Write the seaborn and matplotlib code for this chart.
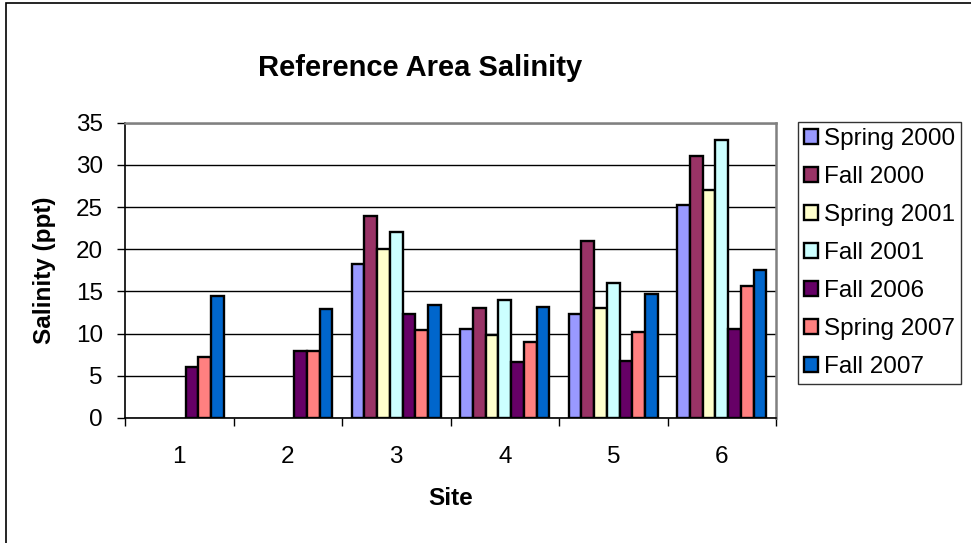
import numpy as np
import pandas as pd
import matplotlib
matplotlib.use("Agg")
import matplotlib.pyplot as plt
from matplotlib.patches import Rectangle
import seaborn as sns

# Survey data: salinity (ppt) per site, one list per survey
sites = ["1", "2", "3", "4", "5", "6"]
spring_2000 = [np.nan, np.nan, 18.3, 10.6, 12.3, 25.3]
fall_2000 = [np.nan, np.nan, 24.0, 13.0, 21.0, 31.0]
spring_2001 = [np.nan, np.nan, 20.0, 9.8, 13.0, 27.0]
fall_2001 = [np.nan, np.nan, 22.0, 14.0, 16.0, 33.0]
fall_2006 = [6.0, 8.0, 12.3, 6.6, 6.8, 10.5]
spring_2007 = [7.2, 8.0, 10.4, 9.0, 10.2, 15.6]
fall_2007 = [14.5, 12.9, 13.4, 13.1, 14.7, 17.5]

surveys = ["Spring 2000", "Fall 2000", "Spring 2001", "Fall 2001",
           "Fall 2006", "Spring 2007", "Fall 2007"]
series = [spring_2000, fall_2000, spring_2001, fall_2001,
          fall_2006, spring_2007, fall_2007]
colors = ["#9999FF", "#993366", "#FFFFCC", "#CCFFFF",
          "#660066", "#FF8080", "#0066CC"]
y_ticks = [0, 5, 10, 15, 20, 25, 30, 35]

rows = []
for name, vals in zip(surveys, series):
    for s, v in zip(sites, vals):
        rows.append({"Site": s, "Survey": name, "Salinity": v})
df = pd.DataFrame(rows)

sns.set_style("white")
plt.rcParams["font.family"] = ["Liberation Sans", "DejaVu Sans"]
plt.rcParams.update({"text.color": "black", "axes.labelcolor": "black",
                     "xtick.color": "black", "ytick.color": "black"})

W, H = 971, 543
fig = plt.figure(figsize=(W / 100, H / 100), dpi=100)
ax = fig.add_axes([125 / W, 1 - 418 / H, (776 - 125) / W, (418 - 122.7) / H])

sns.barplot(data=df, x="Site", y="Salinity", hue="Survey",
            order=sites, hue_order=surveys, palette=colors,
            width=0.82, edgecolor="black", linewidth=1.7,
            errorbar=None, saturation=1, ax=ax, zorder=3)

ax.set_ylim(0, 35)
ax.set_xlim(-0.5, len(sites) - 0.5)
ax.set_yticks(y_ticks)
ax.yaxis.grid(True, color="black", linewidth=1.0, zorder=0)
ax.set_axisbelow(True)

fs = 17.5
ax.tick_params(axis="y", direction="out", length=6, width=1, pad=10,
               labelsize=fs, left=True, color="black", labelcolor="black")
ax.tick_params(axis="x", which="major", length=0, pad=20, labelsize=fs,
               labelcolor="black")
ax.set_xticks(np.arange(-0.5, len(sites)), minor=True)
ax.tick_params(axis="x", which="minor", direction="out", length=6,
               width=1, bottom=True, color="black")

for side in ["left", "bottom"]:
    ax.spines[side].set_color("black")
    ax.spines[side].set_linewidth(1.2)
for side in ["top", "right"]:
    ax.spines[side].set_visible(True)
    ax.spines[side].set_color("#808080")
    ax.spines[side].set_linewidth(1.8)

ax.set_xlabel("Site", fontsize=fs, fontweight="bold", labelpad=14,
              color="black")
ax.set_ylabel("Salinity (ppt)", fontsize=fs, fontweight="bold", labelpad=14,
              color="black")

fig.text(420 / W, 1 - 68 / H, "Reference Area Salinity", fontsize=21,
         fontweight="bold", ha="center", va="center", color="black")

handles, labels = ax.get_legend_handles_labels()
ax.get_legend().remove()
leg = ax.legend(handles, labels, loc="upper left",
                bbox_to_anchor=(797.5 / W, 1 - 122 / H),
                bbox_transform=fig.transFigure, borderaxespad=0,
                fontsize=fs, frameon=True, fancybox=False,
                edgecolor="black", handlelength=0.6, handleheight=0.6,
                handletextpad=0.25, labelspacing=0.66, borderpad=0.25)
leg.get_frame().set_linewidth(1.0)
for t in leg.get_texts():
    t.set_color("black")

# thin frame around the chart area
fig.patches.append(Rectangle((6 / W, -0.1), 1.2, 1.1 - 3.5 / H,
                             transform=fig.transFigure, fill=False,
                             edgecolor="black", linewidth=1.2))

fig.savefig("out.png", dpi=100, facecolor="white")
